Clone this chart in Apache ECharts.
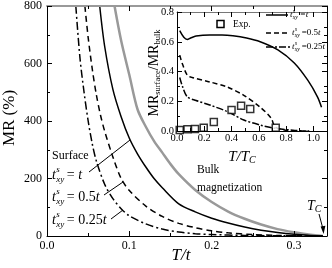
<!DOCTYPE html>
<html><head><meta charset="utf-8">
<script src="https://cdn.jsdelivr.net/npm/echarts@6/dist/echarts.min.js"></script>
<style>html,body{margin:0;padding:0;background:#fff}#c{width:332px;height:268px}</style>
</head><body><div id="c"></div>
<script>
// ---------- main panel: MR (%) vs T/t ----------
const bulkT   = [0.082,0.09,0.10,0.11,0.12,0.13,0.14,0.15,0.16,0.18,0.20,0.22,0.24,0.26,0.28,0.30,0.32,0.335];
const bulkMR  = [800,680,560,440,380,330,290,250,215,160,118,85,60,40,24,13,4,0];
const surf1T  = [0.064,0.07,0.08,0.09,0.10,0.11,0.12,0.13,0.14,0.16,0.18,0.20,0.22,0.24,0.26,0.28,0.30,0.32,0.335];
const surf1MR = [800,660,510,415,340,285,240,200,168,112,84,62,45,31,20,12,6,2,0];
const surf05T = [0.046,0.05,0.055,0.06,0.065,0.07,0.08,0.09,0.10,0.12,0.14,0.16,0.18,0.20,0.22,0.25,0.28,0.31,0.335];
const surf05MR= [800,690,580,490,420,365,275,200,158,104,68,44,29,18,11,5,2,0.5,0];
const surf025T = [0.035,0.04,0.045,0.05,0.055,0.06,0.07,0.08,0.09,0.10,0.12,0.14,0.16,0.18,0.20,0.24,0.28,0.335];
const surf025MR= [800,620,500,400,320,260,180,130,95,70,42,24,14,8,5,2,1,0];
const mainXTicks = [0.0,0.1,0.2,0.3];
const mainYTicks = [0,200,400,600,800];

// ---------- inset: MR_surface/MR_bulk vs T/Tc ----------
const insSolidX = [0.02,0.05,0.075,0.10,0.14,0.24,0.33,0.41,0.51,0.61,0.74,0.86,0.96,1.03,1.06];
const insSolidY = [0.675,0.63,0.615,0.625,0.638,0.645,0.645,0.64,0.625,0.60,0.545,0.457,0.34,0.23,0.16];
const insDashX = [0.02,0.04,0.075,0.11,0.24,0.37,0.49,0.61,0.69,0.72,0.80,0.90,0.97];
const insDashY = [0.51,0.45,0.376,0.36,0.33,0.295,0.24,0.16,0.087,0.027,0.005,0.0,0.0];
const insDDX = [0.02,0.04,0.075,0.14,0.24,0.37,0.49,0.61,0.71,0.85,0.95];
const insDDY = [0.36,0.30,0.23,0.205,0.175,0.13,0.074,0.04,0.02,0.005,0.0];
const expX = [0.02,0.077,0.132,0.196,0.27,0.40,0.47,0.537,0.724];
const expY = [0.007,0.011,0.013,0.022,0.06,0.141,0.17,0.148,0.022];

const zip = (a,b)=>a.map((v,i)=>[v,b[i]]);
const FF = '"Liberation Serif","Times New Roman",serif';

const chart = echarts.init(document.getElementById('c'), null, {renderer:'canvas'});

function axisCommon(extra){
  return Object.assign({
    type:'value', z:5,
    axisLine:{show:true,onZero:false,lineStyle:{color:'#000',width:1}},
    axisTick:{show:true,inside:true,length:5,lineStyle:{color:'#000',width:1}},
    minorTick:{show:true,splitNumber:2,length:3,lineStyle:{color:'#000',width:1}},
    splitLine:{show:false},
    axisLabel:{show:false}
  }, extra);
}

function tsxy(x, y, restRich, fs){
  const sub = Math.round(fs*0.62);
  return [
    {type:'text', x:x, y:y, z:100, silent:true, style:{text:'t', fontSize:fs, fontStyle:'italic', fontFamily:FF, fill:'#000', verticalAlign:'middle', align:'left'}},
    {type:'text', x:x+fs*0.3, y:y-fs*0.36, z:100, silent:true, style:{text:'s', fontSize:sub, fontStyle:'italic', fontFamily:FF, fill:'#000', verticalAlign:'middle', align:'left'}},
    {type:'text', x:x+fs*0.3, y:y+fs*0.32, z:100, silent:true, style:{text:'xy', fontSize:sub, fontStyle:'italic', fontFamily:FF, fill:'#000', verticalAlign:'middle', align:'left'}},
    {type:'text', x:x+fs*0.3+sub*0.95+fs*0.15, y:y, z:100, silent:true, style:{text:restRich, fontSize:fs, fontFamily:FF, fill:'#000', verticalAlign:'middle', align:'left',
      rich:{a:{fontSize:fs,fontFamily:FF,fill:'#000'}, b:{fontSize:fs,fontFamily:FF,fontStyle:'italic',fill:'#000'}}}}
  ];
}

const G = [];
const add = (e)=>{ e.z = 100; e.silent = true; G.push(e); };
add({type:'text', x:52, y:156, style:{text:'Surface', fontSize:12, fontFamily:FF, fill:'#000', verticalAlign:'middle'}});
G.push(...tsxy(52, 175, '{a|= }{b|t}', 14));
G.push(...tsxy(52, 197, '{a|= 0.5}{b|t}', 14));
G.push(...tsxy(52, 220, '{a|= 0.25}{b|t}', 14));
add({type:'line', shape:{x1:89,y1:172,x2:130,y2:140}, style:{stroke:'#000',lineWidth:1}});
add({type:'line', shape:{x1:104,y1:195,x2:123,y2:182}, style:{stroke:'#000',lineWidth:1}});
add({type:'line', shape:{x1:111,y1:219,x2:123,y2:210}, style:{stroke:'#000',lineWidth:1}});
add({type:'text', x:197, y:170, style:{text:'Bulk', fontSize:11.5, fontFamily:FF, fill:'#000', verticalAlign:'middle'}});
add({type:'text', x:197, y:188, style:{text:'magnetization', fontSize:11.5, fontFamily:FF, fill:'#000', verticalAlign:'middle'}});
add({type:'text', x:307, y:206, style:{text:'{i|T}{s|C}', fontFamily:FF, fill:'#000', verticalAlign:'middle',
  rich:{i:{fontSize:14,fontStyle:'italic',fontFamily:FF}, s:{fontSize:10,fontStyle:'italic',fontFamily:FF,verticalAlign:'bottom',padding:[6,0,0,0]}}}});
add({type:'line', shape:{x1:319,y1:214,x2:323,y2:229}, style:{stroke:'#000',lineWidth:1}});
add({type:'polygon', shape:{points:[[323.6,234],[320.6,226.5],[325.4,225.8]]}, style:{fill:'#000'}});
add({type:'text', x:10, y:118, rotation:Math.PI/2, style:{text:'MR (%)', fontSize:17, fontFamily:FF, fill:'#000', align:'center', verticalAlign:'middle'}});
add({type:'text', x:181, y:256, style:{text:'T/t', fontSize:17, fontStyle:'italic', fontFamily:FF, fill:'#000', align:'center', verticalAlign:'middle'}});
add({type:'text', x:154, y:73, rotation:Math.PI/2, style:{text:'{m|MR}{s|surface}{m|/MR}{s|bulk}', fontFamily:FF, fill:'#000', align:'center', verticalAlign:'middle',
  rich:{m:{fontSize:14,fontFamily:FF,lineHeight:16}, s:{fontSize:8.5,fontFamily:FF,verticalAlign:'bottom',lineHeight:16,padding:[6,0,0,0]}}}});
add({type:'text', x:242, y:157, style:{text:'{i|T/T}{s|C}', fontFamily:FF, fill:'#000', align:'center', verticalAlign:'middle',
  rich:{i:{fontSize:15,fontStyle:'italic',fontFamily:FF}, s:{fontSize:10,fontStyle:'italic',fontFamily:FF,verticalAlign:'bottom',padding:[6,0,0,0]}}}});
add({type:'rect', shape:{x:217,y:20.5,width:7,height:7}, style:{fill:'#fff',stroke:'#000',lineWidth:1.5}});
add({type:'text', x:233, y:24, style:{text:'Exp.', fontSize:9.5, fontFamily:FF, fill:'#000', verticalAlign:'middle'}});
add({type:'line', shape:{x1:266,y1:15,x2:288,y2:15}, style:{stroke:'#000',lineWidth:1.5}});
add({type:'line', shape:{x1:266,y1:33,x2:290,y2:33}, style:{stroke:'#000',lineWidth:1.5,lineDash:[5,3]}});
add({type:'line', shape:{x1:266,y1:47,x2:290,y2:47}, style:{stroke:'#000',lineWidth:1.5,lineDash:[7,2,2,2]}});
G.push(...tsxy(290, 15, '{b|=t}', 9));
G.push(...tsxy(292, 33, '{a|=0.5}{b|t}', 9));
G.push(...tsxy(292, 47, '{a|=0.25}{b|t}', 9));

const option = {
  backgroundColor:'#fff',
  animation:false,
  grid:[
    {left:47, right:5, top:5, bottom:32, show:false},
    {left:177, right:5, top:12, bottom:137, show:true, backgroundColor:'#fff', borderWidth:0}
  ],
  xAxis:[
    axisCommon({gridIndex:0, min:0, max:0.34, interval:0.1, position:'bottom',
      axisLabel:{show:true, margin:4, fontSize:12, fontFamily:FF, color:'#000',
        formatter:v=> mainXTicks.some(t=>Math.abs(t-v)<1e-6) ? v.toFixed(1) : ''}}),
    axisCommon({gridIndex:0, min:0, max:0.34, interval:0.1, position:'top',
      axisLine:{show:true,onZero:false,lineStyle:{color:'#999',width:2}}}),
    axisCommon({gridIndex:1, min:0, max:1.1, interval:0.2, position:'bottom',
      axisLabel:{show:true, margin:2, fontSize:10.5, fontFamily:FF, color:'#000',
        formatter:v=> v<=1.0001 ? v.toFixed(1) : ''}}),
    axisCommon({gridIndex:1, min:0, max:1.1, interval:0.2, position:'top',
      axisLine:{show:true,onZero:false,lineStyle:{color:'#777',width:1}}})
  ],
  yAxis:[
    axisCommon({gridIndex:0, min:0, max:800, interval:200, position:'left',
      axisLabel:{show:true, margin:5, fontSize:12, fontFamily:FF, color:'#000',
        formatter:v=> mainYTicks.includes(v) ? String(v) : ''}}),
    axisCommon({gridIndex:0, min:0, max:800, interval:200, position:'right'}),
    axisCommon({gridIndex:1, min:0, max:0.8, interval:0.2, position:'left',
      axisLabel:{show:true, margin:3, fontSize:10.5, fontFamily:FF, color:'#000', formatter:v=>v.toFixed(1)}}),
    axisCommon({gridIndex:1, min:0, max:0.8, interval:0.2, position:'right'})
  ],
  series:[
    {type:'line', xAxisIndex:0, yAxisIndex:0, data:zip(bulkT,bulkMR), symbol:'none', smooth:0.3, lineStyle:{color:'#999',width:2.5}},
    {type:'line', xAxisIndex:0, yAxisIndex:0, data:zip(surf1T,surf1MR), symbol:'none', smooth:0.3, lineStyle:{color:'#000',width:1.5}},
    {type:'line', xAxisIndex:0, yAxisIndex:0, data:zip(surf05T,surf05MR), symbol:'none', smooth:0.3, lineStyle:{color:'#000',width:1.5,type:[6,4]}},
    {type:'line', xAxisIndex:0, yAxisIndex:0, data:zip(surf025T,surf025MR), symbol:'none', smooth:0.3, lineStyle:{color:'#000',width:1.5,type:[8,3,2,3]}},
    {type:'line', xAxisIndex:2, yAxisIndex:2, data:zip(insSolidX,insSolidY), symbol:'none', smooth:0.3, lineStyle:{color:'#000',width:1.5}, z:3},
    {type:'line', xAxisIndex:2, yAxisIndex:2, data:zip(insDashX,insDashY), symbol:'none', smooth:0.3, lineStyle:{color:'#000',width:1.5,type:[5,3]}, z:3},
    {type:'line', xAxisIndex:2, yAxisIndex:2, data:zip(insDDX,insDDY), symbol:'none', smooth:0.3, lineStyle:{color:'#000',width:1.5,type:[7,2,2,2]}, z:3},
    {type:'scatter', xAxisIndex:2, yAxisIndex:2, data:zip(expX,expY), symbol:'rect', symbolSize:7,
      itemStyle:{color:'#fff',borderColor:'#000',borderWidth:1.5}, z:4}
  ],
  graphic:{elements:G}
};
chart.setOption(option);
</script></body></html>
